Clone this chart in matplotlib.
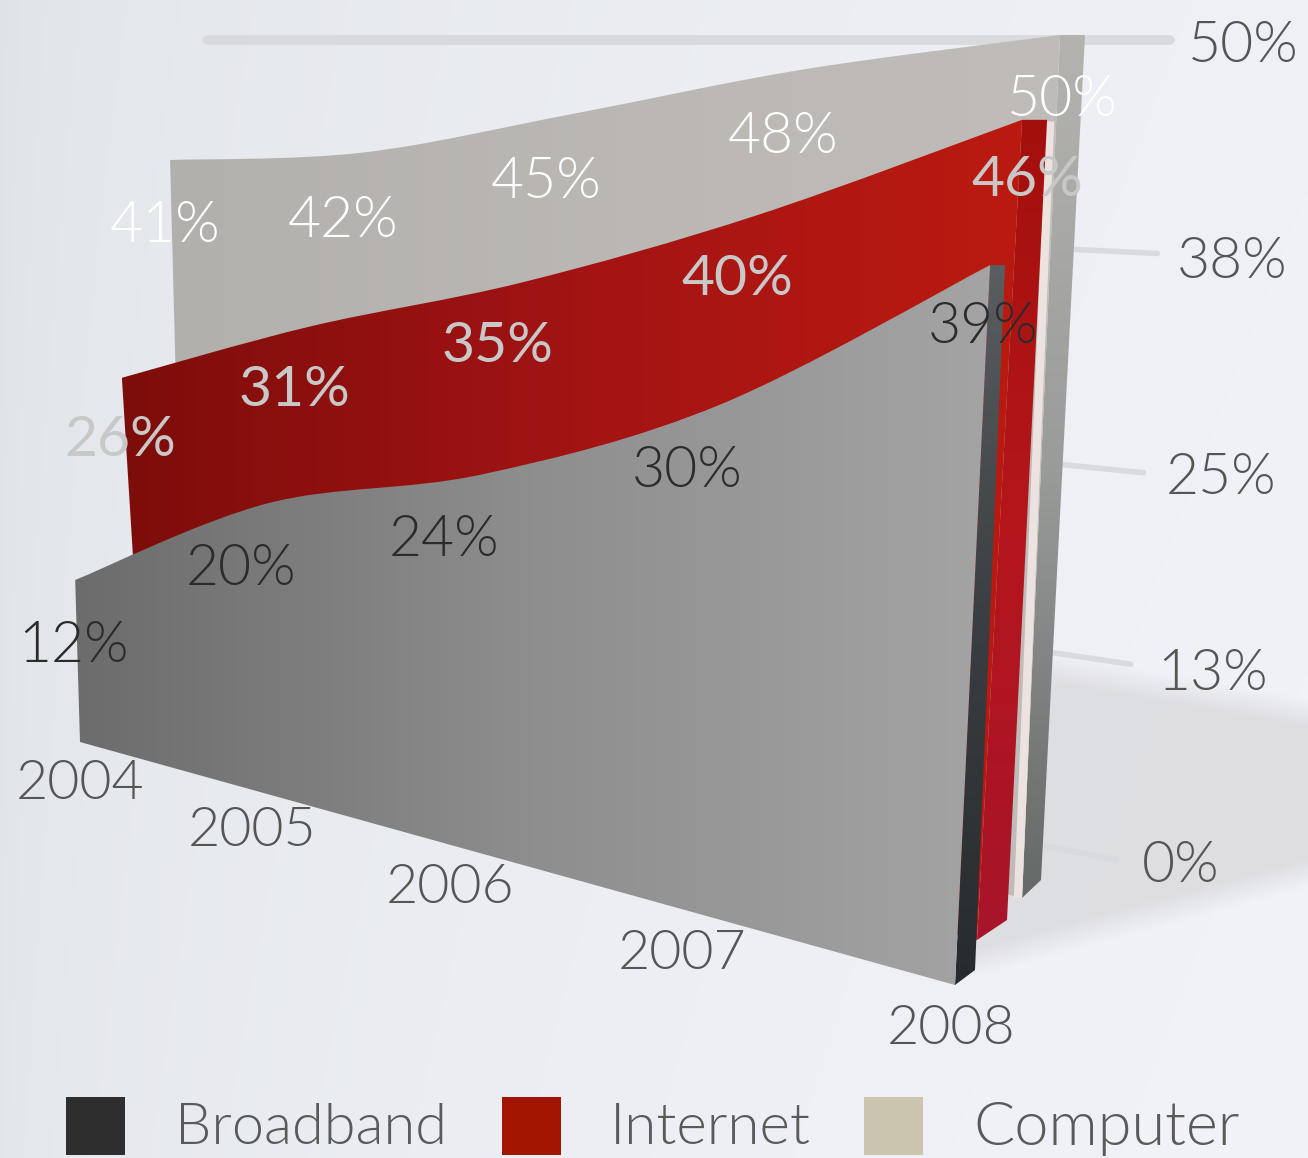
import numpy as np
import matplotlib
matplotlib.use("Agg")
import matplotlib.pyplot as plt
from matplotlib import font_manager as fm
from matplotlib.colors import LinearSegmentedColormap, to_rgb
from matplotlib.patches import PathPatch, Rectangle
from matplotlib.path import Path

plt.rcParams['font.family'] = ['Lato', 'DejaVu Sans']

# data
years = ["2004", "2005", "2006", "2007", "2008"]
broadband = [12, 20, 24, 30, 39]
internet = [26, 31, 35, 40, 46]
computer = [41, 42, 45, 48, 50]
series_names = ["Broadband", "Internet", "Computer"]
axis_ticks = [0, 13, 25, 38, 50]

series = [broadband, internet, computer]

# fake 3d: every wall has its base line, px per percent and lean at left/right end
base_x = [(80, 955), (144, 977), (184, 1022)]
base_y = [(742, 985), (734, 940), (693, 898)]
px_per = [(13.5, 18.46), (13.7, 17.83), (13.0, 17.26)]
lean = [(-0.4, 0.9), (-0.85, 0.98), (-0.34, 0.76)]
k_persp = 1.2


def pick_font(tag, fallback):
    # matplotlib's weight match grabs the hairline cut, so look the file up
    for f in fm.fontManager.ttflist:
        if f.name.startswith("Lato") and tag in f.fname.split("/")[-1] and "Italic" not in f.fname:
            return fm.FontProperties(fname=f.fname)
    return fm.FontProperties(family="Lato", weight=fallback)


font_light = pick_font("Lato-Light", "normal")
font_reg = pick_font("Lato-Regular", "normal")


def project(s, i, v):
    t = i / (len(years) - 1)
    f = t / (t + k_persp * (1 - t))
    bx = base_x[s][0] + f * (base_x[s][1] - base_x[s][0])
    by = base_y[s][0] + f * (base_y[s][1] - base_y[s][0])
    sc = px_per[s][0] + f * (px_per[s][1] - px_per[s][0])
    ln = lean[s][0] + f * (lean[s][1] - lean[s][0])
    return bx + ln * v, by - sc * v


def face_path(s):
    # top edge smoothed with bezier segments through the data points
    vals = series[s]
    pts = np.array([project(s, i, vals[i]) for i in range(len(vals))])
    verts = [pts[0]]
    codes = [Path.MOVETO]
    for i in range(len(pts) - 1):
        before = pts[max(i - 1, 0)]
        after = pts[min(i + 2, len(pts) - 1)]
        verts += [pts[i] + (pts[i + 1] - before) / 6, pts[i + 1] - (after - pts[i]) / 6, pts[i + 1]]
        codes += [Path.CURVE4] * 3
    for i in [len(vals) - 1, 0]:
        verts.append(np.array(project(s, i, 0)))
        codes.append(Path.LINETO)
    verts.append(pts[0])
    codes.append(Path.CLOSEPOLY)
    return Path(np.array(verts), codes)


fig = plt.figure(figsize=(13.08, 11.58), dpi=100)
ax = fig.add_axes([0, 0, 1, 1])
ax.axis('off')


def grad_fill(path, stops, horizontal=True, z=1):
    verts = path.vertices
    cm = LinearSegmentedColormap.from_list("g", stops)
    g = np.linspace(0, 1, 256)
    g = g.reshape(1, -1) if horizontal else g.reshape(-1, 1)
    ext = (verts[:, 0].min(), verts[:, 0].max(), verts[:, 1].max(), verts[:, 1].min())
    im = ax.imshow(g, extent=ext, cmap=cm, aspect='auto', zorder=z, origin='upper')
    p = PathPatch(path, fc='none', ec='none', zorder=z)
    ax.add_patch(p)
    im.set_clip_path(p)


# background
xx, yy = np.meshgrid(np.linspace(0, 1, 327), np.linspace(0, 1, 290))
amt = np.clip(np.sqrt(xx) * 0.85 + yy * 0.15, 0, 1)
c0 = np.array(to_rgb("#dfe3e8"))
c1 = np.array(to_rgb("#f2f3f8"))
bg = c0 + (c1 - c0) * amt[..., None]
ax.imshow(bg, extent=(0, 1308, 1158, 0), aspect='auto', zorder=0)

# floor shadow
sx, sy = np.meshgrid(np.arange(960, 1308, 2), np.arange(640, 1000, 2))
up = 670 + (sx - 1150) * 0.17
low = 953 - (sx - 1060) * 0.266
soft = np.clip((sy - up) / 30, 0, 1) * np.clip((low - sy) / 30, 0, 1)
shadow = np.zeros(sx.shape + (4,))
shadow[..., :3] = to_rgb("#dcdcdf")
shadow[..., 3] = soft * 0.9
ax.imshow(shadow, extent=(960, 1308, 1000, 640), aspect='auto', zorder=0.5)

# value axis lines + labels
tick_text_dx = [25, 26, 22, 20, 18]
tick_text_dy = [7, 10, 6, 9, 6]
for n, v in enumerate(axis_ticks):
    i = v / 12.5
    ye = 860 - (188 * i + 11.3 * i * (i - 1) / 2)
    xe = 1117 + v * 1.06
    slope = 0.2 * (1 - v / 50)
    xs = 207 if v == axis_ticks[-1] else 1000
    ys = ye - slope * (xe - xs)
    lw = 7 if v == axis_ticks[-1] else 4
    ax.plot([xs, xe], [ys, ye], color="#d8dade", lw=lw, solid_capstyle='round', zorder=0.8)
    ax.text(xe + tick_text_dx[n], ye + tick_text_dy[n], "%d%%" % v, fontsize=41, fontproperties=font_light,
            color="#555555", ha='left', va='center', zorder=6)

# walls, back to front
side_offset = [((20, -15), (15, 0)), ((30, -20), (25, 0)), ((19, -18), (25, 0))]
side_stops = [["#5a5e60", "#3a3e42", "#262b2e"],
              ["#a3100c", "#b5161c", "#a8142a"],
              ["#b4b3b0", "#9a9c9a", "#646867"]]

for s, stops, z in [(2, ["#b2b0ad", "#bbb8b4", "#c0bcb9"], 2),
                    (1, ["#7d0d0a", "#a21414", "#bb1a10"], 3),
                    (0, ["#6c6c6c", "#8e8e8e", "#a4a4a4"], 4)]:
    last = len(years) - 1
    fb = project(s, last, 0)
    ft = project(s, last, series[s][last])
    (bdx, bdy), (tdx, tdy) = side_offset[s]
    side = Path([ft, (ft[0] + tdx, ft[1] + tdy), (fb[0] + bdx, fb[1] + bdy), fb, ft], closed=True)
    grad_fill(side, side_stops[s], horizontal=False, z=z - 0.5)
    grad_fill(face_path(s), stops, z=z)

# light strip between red and computer wall
x0, y0 = project(2, 4, 0)
x1, y1 = project(2, 4, internet[-1] - 1)
ax.plot([x0 - 4, x1 - 6], [y0, y1], color="#ece2df", lw=6, zorder=2.2, solid_capstyle='butt')

# value labels, offsets from the data point
label_dx = [(-2, -27, -38, -34, -7), (-2, -17, -24, -20, 5), (-5, -19, -26, -21, 2)]
label_dy = [(66, 66, 66, 67, 62), (63, 64, 64, 64, 61), (66, 69, 68, 68, 65)]
label_col = ["#2b2b2b", "#c8c8c8", "#ffffff"]
label_font = [font_light, font_reg, font_light]
for s in range(3):
    for i, v in enumerate(series[s]):
        px, py = project(s, i, v)
        ax.text(px + label_dx[s][i], py + label_dy[s][i], "%d%%" % v, fontsize=41,
                fontproperties=label_font[s], color=label_col[s], ha='center', va='center', zorder=7)

# year labels under the front wall
year_dx = [0, -18, -28, -23, -4]
year_dy = [42, 36, 36, 38, 44]
for i, y in enumerate(years):
    px, py = project(0, i, 0)
    ax.text(px + year_dx[i], py + year_dy[i], y, fontsize=40, fontproperties=font_light,
            color="#555555", ha='center', va='center', zorder=7)

# legend
legend_cols = ["#2e2e2e", "#a01400", "#cbc4ae"]
legend_x = [66, 502, 864]
text_x = [175, 610, 973]
legend_size = [41.5, 42, 44]
for name, c, lx, tx, sz in zip(series_names, legend_cols, legend_x, text_x, legend_size):
    ax.add_patch(Rectangle((lx, 1097), 59, 58, fc=c, ec='none', zorder=7))
    ax.text(tx, 1129, name, fontsize=sz, fontproperties=font_light, color="#5a5a5a",
            ha='left', va='center', zorder=7)

ax.set_xlim(0, 1308)
ax.set_ylim(1158, 0)
fig.savefig("out.png", dpi=100)
